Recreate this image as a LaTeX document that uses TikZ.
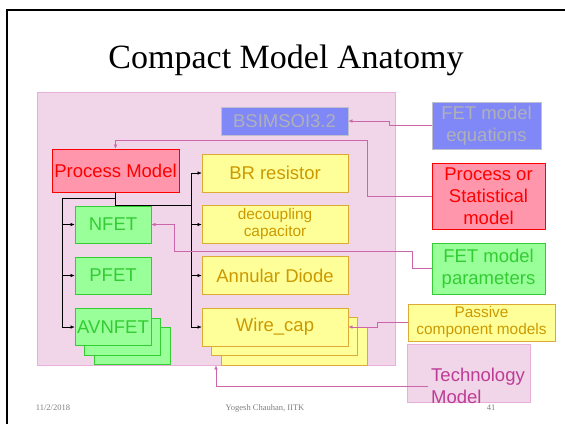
\documentclass[tikz,border=0pt]{standalone}
\usepackage{fontspec}
\setmainfont{Liberation Serif}
\setsansfont{Liberation Sans}
\usetikzlibrary{positioning, arrows.meta, calc}
\definecolor{pinkfill}{RGB}{240,214,232}
\definecolor{pinkline}{RGB}{232,176,216}
\definecolor{bluefill}{RGB}{128,136,248}
\definecolor{blueline}{RGB}{192,192,204}
\definecolor{bluetext}{RGB}{176,176,184}
\definecolor{redfill}{RGB}{255,150,172}
\definecolor{greenfill}{RGB}{153,255,153}
\definecolor{greenline}{RGB}{51,204,51}
\definecolor{yellowfill}{RGB}{255,255,153}
\definecolor{yellowline}{RGB}{221,170,51}
\definecolor{yellowtext}{RGB}{204,153,0}
\definecolor{linkcol}{RGB}{204,102,170}
\definecolor{techtext}{RGB}{190,60,150}
\tikzset{
    box/.style={draw, line width=0.9pt, inner sep=0pt, align=center, font=\sffamily\fontsize{18.5}{22}\selectfont},
    small text/.style={font=\sffamily\fontsize{15.4}{17}\selectfont},
    region/.style={draw=pinkline, fill=pinkfill, line width=0.9pt, inner sep=0pt},
    fetbox/.style={box, draw=greenline, fill=greenfill, text=greenline, minimum width=76pt, minimum height=37pt},
    passbox/.style={box, draw=yellowline, fill=yellowfill, text=yellowtext, minimum width=146pt, minimum height=38pt},
    eqbox/.style={box, draw=blueline, fill=bluefill, text=bluetext},
    procbox/.style={box, draw=red, fill=redfill, text=red},
    wire/.style={thin, black},
    wire_arrow/.style={wire, -{Latex[length=4pt,width=3.5pt]}},
    link/.style={thin, linkcol, -{Latex[length=4pt,width=3.5pt]}},
    footer/.style={font=\fontsize{8.5}{10}\selectfont, text=gray}
}
\begin{document}
\begin{tikzpicture}[x=1pt, y=-1pt]
    \useasboundingbox (0,0) rectangle (565,424);
    \fill[white] (0,0) rectangle (565,424);
    \draw[line width=1.4pt] (7,424) -- (7,10) -- (565,10);

    % --- Title ---
    \node (title) at (286,60) {\fontsize{34}{40}\selectfont Compact Model Anatomy};

    % --- Model region ---
    \node (anatomy) [region, minimum width=358pt, minimum height=273pt] at (216,228.5) {};
    \node (bsim) [eqbox, minimum width=127pt, minimum height=28pt] at (284.5,121) {BSIMSOI3.2};
    \node (procmodel) [procbox, minimum width=127pt, minimum height=43pt] at (115.5,170.5) {Process Model};

    % --- Devices ---
    \node (nfet) [fetbox] at (113,224.5) {NFET};
    \node (pfet) [fetbox] at (113,275.5) {PFET};
    \node (avnfetc) [fetbox] at (132,346) {};
    \node (avnfetb) [fetbox] at (122.5,336.5) {};
    \node (avnfet) [fetbox] at (113,327) {AVNFET};

    \node (brres) [passbox] at (275,173) {BR resistor};
    \node (decap) [passbox, small text] at (275,224.5) {decoupling\\capacitor};
    \node (annular) [passbox] at (275,275.5) {Annular Diode};
    \node (wirecapc) [passbox] at (294,346) {};
    \node (wirecapb) [passbox] at (284.5,336.5) {};
    \node (wirecap) [passbox] at (275,327) {Wire\_cap};

    % --- Legend ---
    \node (eqs) [eqbox, minimum width=109pt, minimum height=47pt] at (486.5,125.5) {FET model\\equations};
    \node (procstat) [procbox, minimum width=113pt, minimum height=66pt] at (488.5,196) {Process or\\Statistical\\model};
    \node (fetpar) [box, draw=greenline, fill=greenfill, text=greenline, minimum width=113pt, minimum height=51pt] at (488.5,268.5) {FET model\\parameters};
    \node (passive) [box, small text, draw=yellowline, fill=yellowfill, text=yellowtext, minimum width=147pt, minimum height=37pt] at (481.5,322.5) {Passive\\component models};
    \node (tech) [region, minimum width=123pt, minimum height=58pt] at (468.5,373) {};
    \node (techtxt) [anchor=west, align=left, inner sep=3pt, text=techtext, font=\sffamily\fontsize{18.5}{22}\selectfont] at (428,386) {Technology\\Model};

    % --- Hierarchy wires ---
    \coordinate (lbus) at (62,198);
    \coordinate (rbus) at (191,205);
    \draw[wire] (procmodel.south) |- (rbus);
    \draw[wire] (procmodel.south |- lbus) -- (lbus);
    \foreach \dev in {nfet,pfet,avnfet}
        \draw[wire_arrow] (lbus) |- (\dev.west);
    \foreach \dev in {brres,decap,annular,wirecap}
        \draw[wire_arrow] (rbus) |- (\dev.west);

    % --- Legend links ---
    \coordinate (bendA) at (367,140);
    \coordinate (bendB) at (174,251);
    \draw[link] (eqs.west) -- ++(-42,0) |- (bsim.east);
    \draw[link] (procstat.west) -| (bendA) -| (procmodel.north);
    \draw[link] (fetpar.west) -- ++(-19,0) |- (bendB) |- (nfet.east);
    \draw[link] (passive.west) -- ++(-30,0) |- (wirecap.east);
    \draw[link] (techtxt.west) -| (anatomy.south);

    % --- Footer ---
    \node (date) [footer] at (53,408) {11/2/2018};
    \node (author) [footer] at (265,408) {Yogesh Chauhan, IITK};
    \node (page) [footer] at (491,408) {41};
\end{tikzpicture}
\end{document}
